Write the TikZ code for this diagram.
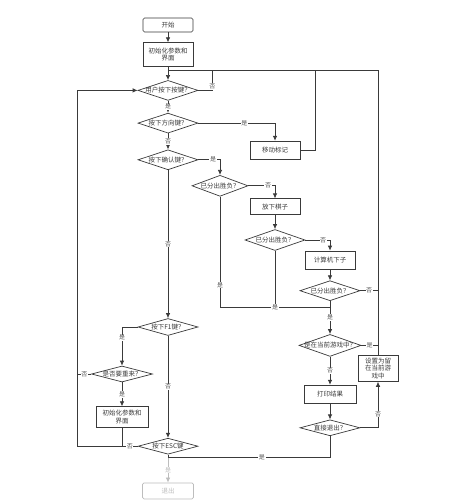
\documentclass[tikz,border=0pt]{standalone}
\usepackage{fontspec}
\newfontfamily\cjk{Noto Sans CJK SC}
\usepackage{xcolor}
\usepackage{tikz}
\usetikzlibrary{calc}
\usetikzlibrary{positioning}
\usetikzlibrary{arrows.meta}
\usetikzlibrary{shapes.geometric}

\definecolor{linec}{HTML}{3A3A3A}
\definecolor{labc}{HTML}{555555}
\definecolor{greyc}{HTML}{BDBDBD}
\newcommand{\dtxt}[1]{\makebox[0pt]{#1}}

\begin{document}
\begin{tikzpicture}[
    y = 1pt,
    x = 1pt,
    font = \cjk\fontsize{6.5}{7.5}\selectfont,
    color = linec,
    line width = 0.7pt,
    > = {Latex[length=5pt,width=4.5pt]},
    procf/.style = {
      rectangle,
      draw,
      fill=white,
      minimum width=50pt,
      minimum height=16pt,
      inner sep=1pt
    },
    termf/.style = {
      procf,
      rounded corners=1.5pt,
      minimum height=14pt
    },
    decf/.style = {
      diamond,
      draw,
      fill=white,
      aspect=3,
      inner sep=0pt,
      minimum width=60pt,
      minimum height=20pt
    },
    lbl/.style = {
      fill=white,
      inner sep=0.6pt,
      text=labc,
      font=\cjk\fontsize{6}{6}\selectfont
    }
  ]
    \useasboundingbox (0,0) rectangle (473,-500);

    % main column
    \node[termf] (start) at (168,-25) {开始};
    \node[procf, minimum height=24pt, align=center] (init) [below=10pt of start] {初始化参数和\\界面};
    \node[decf] (d1) [below=13pt of init] {\dtxt{用户按下按键？}};
    \node[decf] (d2) [below=12pt of d1] {\dtxt{按下方向键？}};
    \node[decf] (d3) [below=16pt of d2] {\dtxt{按下确认键？}};
    \node[decf, minimum height=17pt] (d7) [below=148pt of d3] {\dtxt{按下F1键？}};
    \node[decf, minimum height=16pt] (d9) [below=102pt of d7] {\dtxt{按下ESC键}};
    \node[termf, minimum width=51pt, minimum height=16pt, draw=greyc, text=greyc] (exit) [below=28pt of d9] {退出};

    % right branch
    \node[procf, minimum height=18pt] (move) at ($(d2)+(107,-27)$) {移动标记};
    \node[decf, minimum width=56pt, minimum height=21pt] (d4) at ($(d3)+(52,-26)$) {\dtxt{已分出胜负？}};
    \node[procf] (place) at ($(d4)+(55,-21)$) {放下棋子};
    \node[decf, minimum height=21pt] (d5) [below=14pt of place] {\dtxt{已分出胜负？}};
    \node[procf, minimum height=18pt] (comp) at ($(d5)+(55,-20)$) {计算机下子};
    \node[decf] (d6) [below=11pt of comp] {\dtxt{已分出胜负？}};
    \node[decf, minimum width=62pt, minimum height=22pt] (d10) [below=33pt of d6] {\dtxt{是在当前游戏中？}};
    \node[procf, minimum width=52pt, minimum height=18pt] (print) [below=28pt of d10] {打印结果};
    \node[decf, minimum height=16pt] (d11) [below=16pt of print] {\dtxt{直接退出？}};
    \node[procf, minimum width=40pt, minimum height=26pt, text width=32pt, align=center] (set) at ($(d10)+(48,-23)$) {设置为留\\在当前游\\戏中};

    % left branch
    \node[decf, minimum width=61pt, minimum height=16pt] (d8) at ($(d7)+(-46,-47)$) {\dtxt{是否要重来？}};
    \node[procf, minimum width=52pt, minimum height=21pt, align=center] (init2) [below=24pt of d8] {初始化参数和\\界面};

    \coordinate (jtop) at ($(init.south)+(0,-3)$);
    \coordinate (jmid) at ($(d6.south)+(0,-6)$);
    \coordinate (jbot) at ($(d9.south)+(0,-3)$);
    \coordinate (jleft) at ($(d9.west)+(-60,0)$);

    \draw[->] (start) -- (init);
    \draw[->] (init) -- (d1);
    \draw (d1.east) -- ++(14,0) |- node[lbl, pos=.1]{否} (jtop);
    \draw (move.east) -- ++(15,0) |- (jtop);
    \draw (set.north) |- (jtop);
    \draw[->] (d1) -- node[lbl]{是} (d2);
    \draw[->] (d2.east) -| node[lbl, pos=.3]{是} (move.north);
    \draw[->] (d2) -- node[lbl]{否} (d3);
    \draw[->] (d3.east) -| node[lbl, pos=.34]{是} (d4.north);
    \draw[->] (d3) -- node[lbl]{否} (d7);
    \draw[->] (d4.east) -| node[lbl, pos=.37]{否} (place.north);
    \draw (d4.south) |- node[lbl, pos=.4]{是} (jmid);
    \draw[->] (place) -- (d5);
    \draw (d5.south) -- node[lbl, pos=1]{是} (d5.south |- jmid);
    \draw[->] (d5.east) -| node[lbl, pos=.36]{否} (comp.north);
    \draw[->] (comp) -- (d6);
    \draw (d6.east) -- node[lbl]{否} (d6.east -| set.north);
    \draw[->] (d6) -- node[lbl]{是} (d10);
    \draw (d10.east) -- node[lbl]{是} (d10.east -| set.north);
    \draw[->] (d10) -- node[lbl]{否} (print);
    \draw[->] (print) -- (d11);
    \draw[->] (d11.east) -| node[lbl, pos=.65]{否} (set.south);
    \draw (d11.south) |- node[lbl, pos=.71]{是} (jbot);
    \draw[->] (d7.west) -| node[lbl, pos=.64]{是} (d8.north);
    \draw[->] (d7) -- node[lbl]{否} (d9);
    \draw[->] (d8) -- node[lbl]{是} (init2);
    \draw (d8.west) -- node[lbl]{否} (d8.west -| jleft);
    \draw (init2.south) -- (init2.south |- d9.west);
    \draw[->] (d9.west) -- node[lbl, pos=.13]{否} (jleft) |- (d1.west);
    \draw (d9) -- (jbot);
    \draw[->, draw=greyc] (jbot) -- node[lbl, text=greyc]{是} (exit);
  \end{tikzpicture}
\end{document}
